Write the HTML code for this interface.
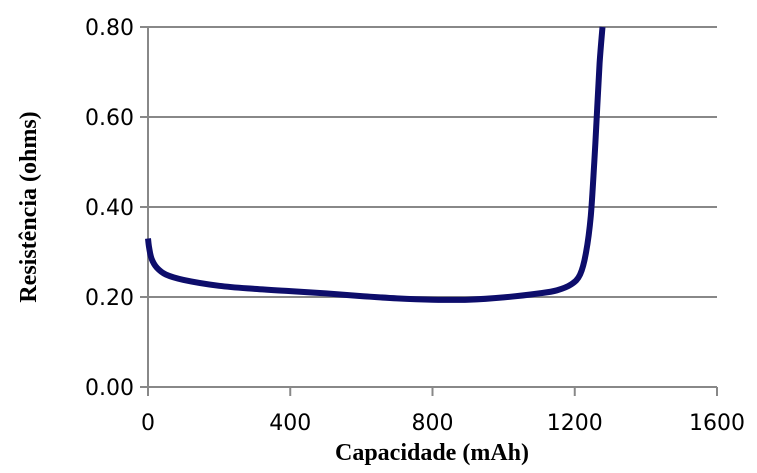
<!DOCTYPE html>
<html><head><meta charset="utf-8"><style>
body{margin:0;background:#fff}
svg text{font-family:"DejaVu Sans","Liberation Sans",sans-serif}
</style></head><body>
<svg id="c" width="757" height="468" xmlns="http://www.w3.org/2000/svg"></svg>
<script>
const xTicks=[0,400,800,1200,1600];
const yTicks=[0,0.2,0.4,0.6,0.8];
const yTickLabels=["0.00","0.20","0.40","0.60","0.80"];
const capacity=[0,3,10,25,50,100,200,300,400,500,600,700,800,900,1000,1100,1150,1190,1215,1232,1245,1255,1263,1270,1278];
const resistance=[0.33,0.31,0.285,0.265,0.25,0.238,0.225,0.218,0.213,0.208,0.202,0.197,0.194,0.194,0.199,0.208,0.215,0.228,0.25,0.30,0.38,0.50,0.62,0.72,0.80];
const svg=document.getElementById('c');
const NS='http://www.w3.org/2000/svg';
const x0=148,x1=717,y0=387,y1=27;
const X=v=>x0+(v-0)/1600*(x1-x0);
const Y=v=>y0-(v/0.8)*(y0-y1);
function mk(t,a,name){const e=document.createElementNS(NS,t);for(const k in a)e.setAttribute(k,a[k]);


svg.appendChild(e);return e;}
yTicks.forEach((v,i)=>{
 if(v>0) mk('line',{x1:x0,x2:x1,y1:Y(v),y2:Y(v),stroke:'#888','stroke-width':2},'gridline');
 mk('line',{x1:x0-8,x2:x0,y1:Y(v),y2:Y(v),stroke:'#888','stroke-width':2},'y-tick');
 const t=mk('text',{x:x0-14,y:Y(v)+8,'text-anchor':'end','font-size':22,fill:'#000'},'y-tick-label');t.textContent=yTickLabels[i];
});
mk('line',{x1:x0,x2:x1,y1:y0,y2:y0,stroke:'#888','stroke-width':2},'x-axis');
mk('line',{x1:x0,x2:x0,y1:y1,y2:y0+9,stroke:'#888','stroke-width':2},'y-axis');
xTicks.forEach(v=>{
 mk('line',{x1:X(v),x2:X(v),y1:y0,y2:y0+9,stroke:'#888','stroke-width':2},'x-tick');
 const t=mk('text',{x:X(v),y:y0+43,'text-anchor':'middle','font-size':22,fill:'#000'},'x-tick-label');t.textContent=v;
});
const P=capacity.map((c,i)=>[X(c),Y(resistance[i])]);
let d='M'+P[0][0].toFixed(1)+','+P[0][1].toFixed(1);
for(let i=0;i<P.length-1;i++){
 const p0=P[Math.max(0,i-1)],p1=P[i],p2=P[i+1],p3=P[Math.min(P.length-1,i+2)];
 const c1=[p1[0]+(p2[0]-p0[0])/6,p1[1]+(p2[1]-p0[1])/6];
 const c2=[p2[0]-(p3[0]-p1[0])/6,p2[1]-(p3[1]-p1[1])/6];
 d+='C'+c1.map(n=>n.toFixed(1)).join(',')+' '+c2.map(n=>n.toFixed(1)).join(',')+' '+p2.map(n=>n.toFixed(1)).join(',');
}
mk('path',{d:d,fill:'none',stroke:'#0d0d6b','stroke-width':6,'stroke-linejoin':'round'},'resistance-line');
const xt=mk('text',{x:432,y:460,'text-anchor':'middle','font-size':24,'font-weight':'bold',style:'font-family:"Liberation Serif",serif'},'x-axis-title');xt.textContent='Capacidade (mAh)';
const yt=mk('text',{x:0,y:0,'text-anchor':'middle','font-size':24,'font-weight':'bold',style:'font-family:"Liberation Serif",serif',transform:'translate(36,207) rotate(-90)'},'y-axis-title');yt.textContent='Resistência (ohms)';
</script>
</body></html>
